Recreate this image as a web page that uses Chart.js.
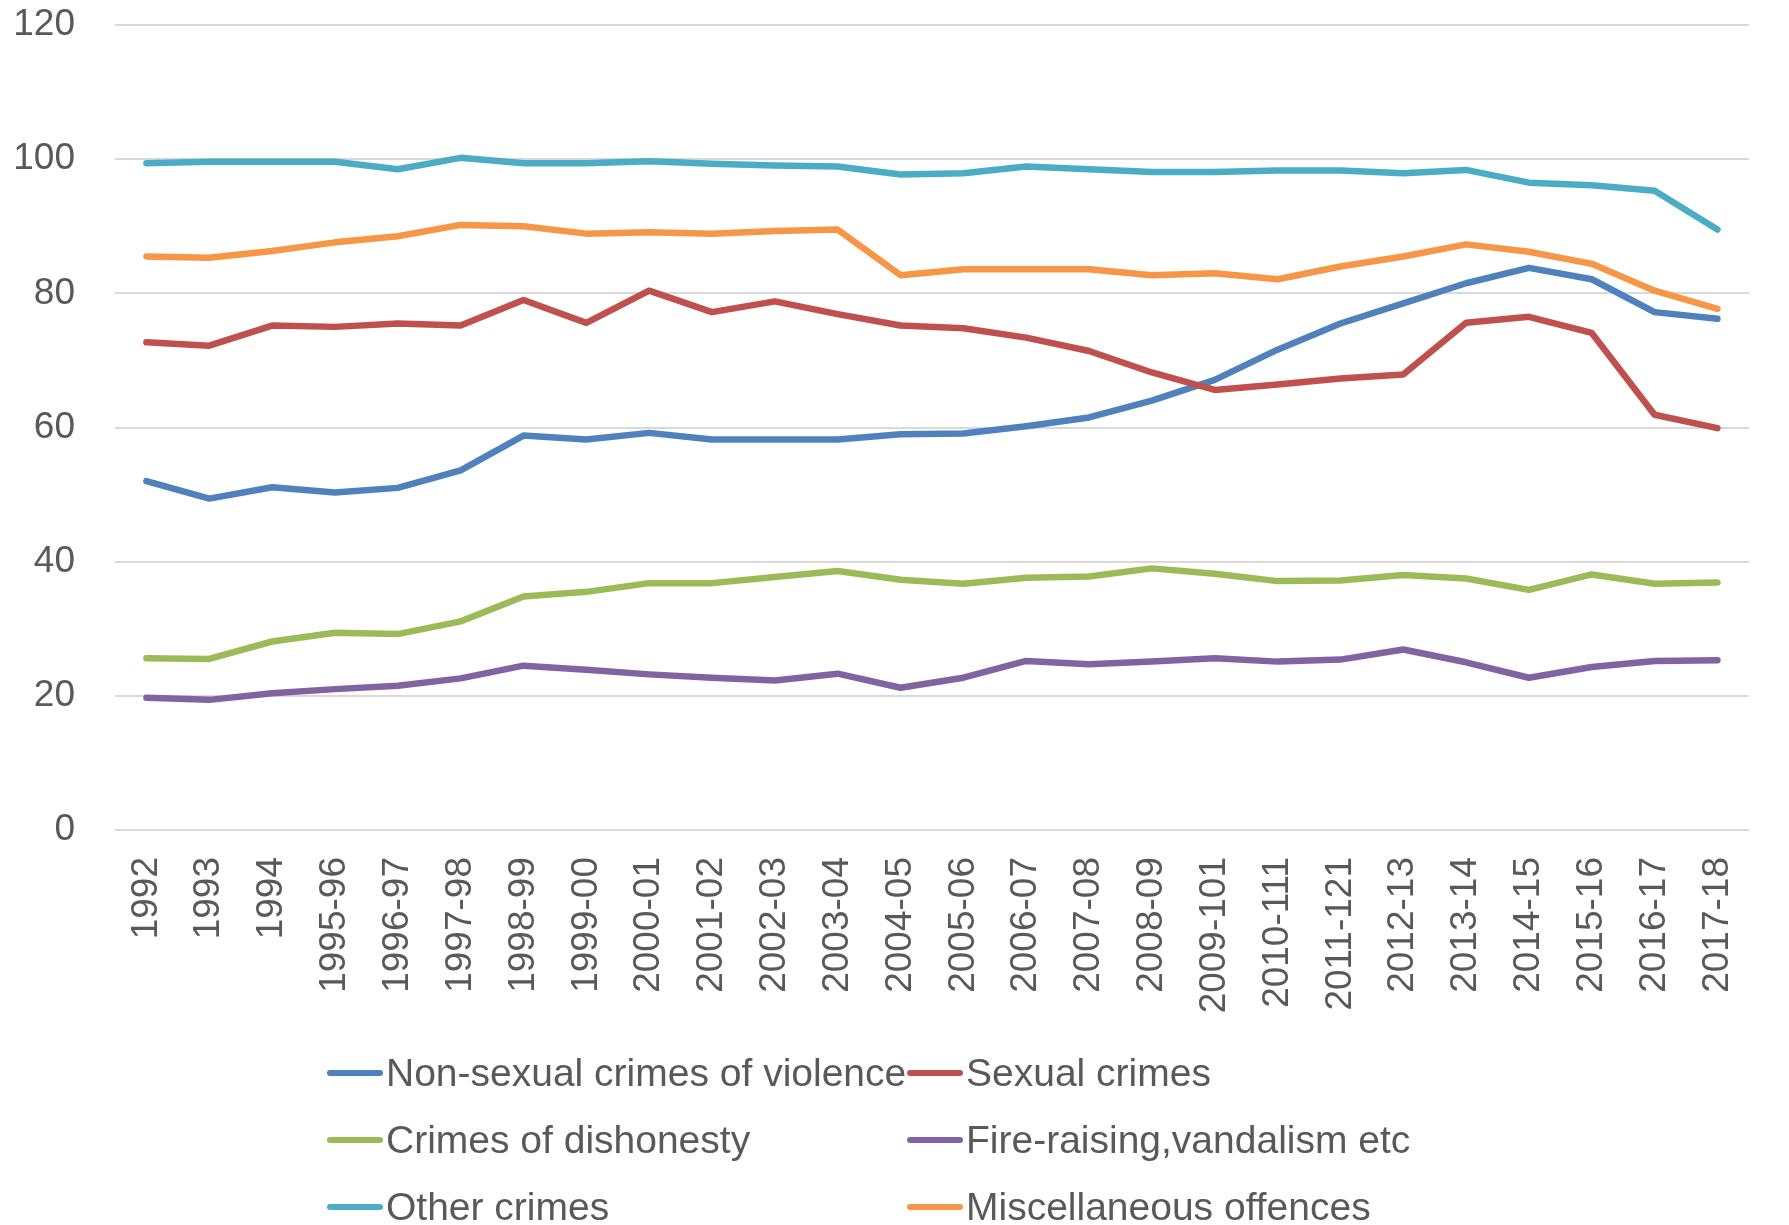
<!DOCTYPE html>
<html><head><meta charset="utf-8">
<script src="https://cdn.jsdelivr.net/npm/chart.js@4.4.1/dist/chart.umd.min.js"></script>
<style>
html,body{margin:0;padding:0;background:#fff;}
#wrap{position:relative;width:1789px;height:1225px;overflow:hidden;}
#legend{position:absolute;left:0;top:0;width:100%;height:100%;pointer-events:none;font-family:"Liberation Sans",Arial,sans-serif;font-size:39px;color:#595959;}
.item{position:absolute;display:flex;align-items:center;white-space:nowrap;height:50px;}
.swatch{width:56px;height:6px;margin-right:3px;border-radius:3px;}
</style></head><body>
<div id="wrap"><canvas id="c" width="1789" height="1225"></canvas><div id="legend"></div></div>
<script>
const categories = ["1992","1993","1994","1995-96","1996-97","1997-98","1998-99","1999-00","2000-01","2001-02","2002-03","2003-04","2004-05","2005-06","2006-07","2007-08","2008-09","2009-101","2010-111","2011-121","2012-13","2013-14","2014-15","2015-16","2016-17","2017-18"];
const seriesNames = ["Non-sexual crimes of violence","Sexual crimes","Crimes of dishonesty","Fire-raising,vandalism etc","Other crimes","Miscellaneous offences"];
const nonSexual = [52.0,49.4,51.1,50.3,51.0,53.6,58.8,58.2,59.2,58.2,58.2,58.2,59.0,59.1,60.2,61.5,64.0,67.1,71.6,75.5,78.5,81.5,83.8,82.1,77.2,76.2];
const sexual = [72.7,72.2,75.2,75.0,75.5,75.2,79.0,75.6,80.4,77.2,78.8,76.9,75.2,74.8,73.4,71.4,68.2,65.6,66.4,67.3,67.9,75.6,76.5,74.1,61.9,59.9];
const dishonesty = [25.6,25.5,28.1,29.4,29.2,31.1,34.8,35.5,36.8,36.8,37.7,38.6,37.3,36.7,37.6,37.8,39.0,38.2,37.1,37.2,38.0,37.5,35.8,38.1,36.7,36.9];
const fireRaising = [19.7,19.4,20.4,21.0,21.5,22.6,24.5,23.9,23.2,22.7,22.3,23.3,21.2,22.7,25.2,24.7,25.1,25.6,25.1,25.4,26.9,25.0,22.7,24.3,25.2,25.3];
const otherCrimes = [99.4,99.6,99.6,99.6,98.5,100.2,99.4,99.4,99.7,99.3,99.05,98.9,97.7,97.9,98.9,98.5,98.1,98.1,98.3,98.3,97.9,98.4,96.5,96.1,95.3,89.5];
const miscOffences = [85.5,85.3,86.3,87.6,88.5,90.2,90.0,88.9,89.1,88.9,89.3,89.5,82.7,83.6,83.6,83.6,82.7,83.0,82.1,84.0,85.5,87.3,86.2,84.4,80.4,77.7];
const yTicks = [0,20,40,60,80,100,120];
const colors = ["#4F81BD","#C0504D","#9BBB59","#8064A2","#4BACC6","#F79646"];
const values = [nonSexual, sexual, dishonesty, fireRaising, otherCrimes, miscOffences];

const FONT = '"Liberation Sans", Arial, sans-serif';
const datasets = seriesNames.map((name, i) => ({
  label: name,
  data: values[i],
  borderColor: colors[i],
  backgroundColor: colors[i],
  borderWidth: 6.5,
  borderCapStyle: 'round',
  borderJoinStyle: 'round',
  pointRadius: 0,
  tension: 0,
  fill: false,
  order: seriesNames.length - i
}));

const chart = new Chart(document.getElementById('c'), {
  type: 'line',
  data: { labels: categories, datasets },
  options: {
    responsive: false,
    animation: false,
    devicePixelRatio: 1,
    layout: { padding: { top: 25, right: 9, left: 0, bottom: 0 } },
    plugins: { legend: { display: false }, tooltip: { enabled: false } },
    scales: {
      x: {
        offset: true,
        grid: { display: false, drawTicks: false },
        border: { display: false },
        ticks: { minRotation: 90, maxRotation: 90, autoSkip: false, padding: 27, color: '#595959', font: { family: FONT, size: 37 } },
        afterFit: (s) => { s.height = 395; s.paddingTop = 0; s.paddingBottom = 0; }
      },
      y: {
        min: 0, max: 120,
        afterBuildTicks: (s) => { s.ticks = yTicks.map(v => ({ value: v })); },
        grid: { color: '#D9D9D9', lineWidth: 2, drawTicks: false },
        border: { display: false },
        ticks: { padding: 40, color: '#595959', font: { family: FONT, size: 37 } },
        afterFit: (s) => { s.width = 115; s.paddingTop = 0; s.paddingBottom = 0; }
      }
    }
  }
});

const legend = document.getElementById('legend');
chart.data.datasets.forEach((ds, i) => {
  const col = i % 2, row = Math.floor(i / 2);
  const item = document.createElement('div');
  item.className = 'item';
  item.style.left = (col === 0 ? 327 : 907) + 'px';
  item.style.top = (1073 + 67 * row - 25) + 'px';
  const sw = document.createElement('span');
  sw.className = 'swatch';
  sw.style.background = ds.borderColor;
  const tx = document.createElement('span');
  tx.textContent = ds.label;
  item.appendChild(sw); item.appendChild(tx);
  legend.appendChild(item);
});
</script>
</body></html>
